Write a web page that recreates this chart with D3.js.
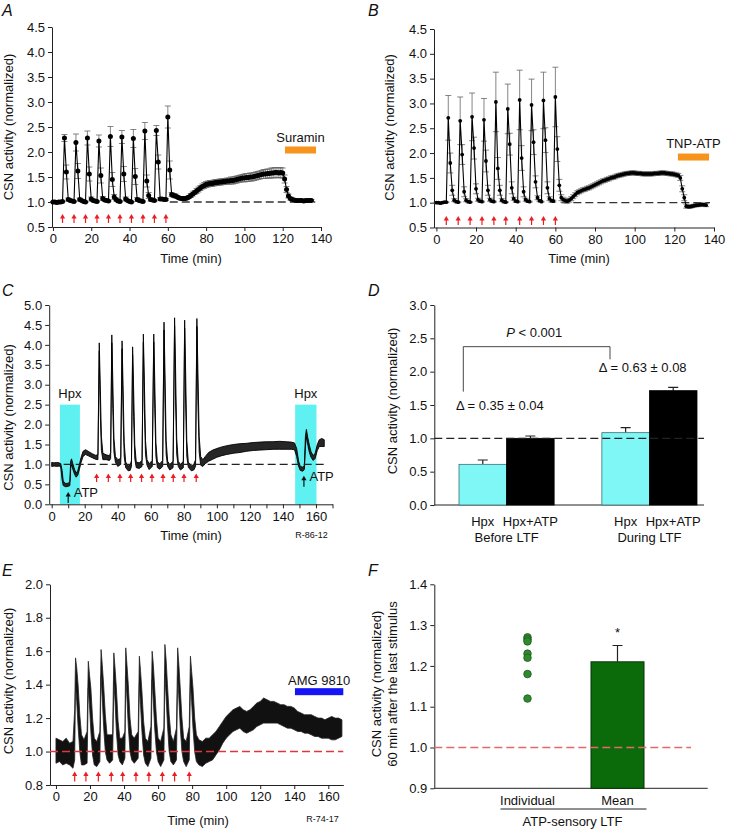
<!DOCTYPE html>
<html>
<head>
<meta charset="utf-8">
<script src="https://cdnjs.cloudflare.com/ajax/libs/d3/7.8.5/d3.min.js"></script>
<style>
body { margin: 0; background: #fff; }
text { font-family: "Liberation Sans", Arial, Helvetica, sans-serif; fill: #111; }
</style>
</head>
<body>
<script>
// ---------- data ----------
// A and B: mean and SEM, one sample per minute (index = minute)
var meanA = [
    1.00,1.00,0.99,1.00,1.00,1.01,
    2.28,1.60,1.05,1.03,1.02,1.01,
    2.19,1.62,1.05,1.03,1.01,1.00,
    2.28,1.56,1.06,1.03,1.02,1.01,
    2.22,1.53,1.07,1.04,1.03,1.02,
    2.31,1.45,1.10,1.05,1.02,1.01,
    2.30,1.56,1.06,1.03,1.01,1.00,
    2.27,1.51,1.05,1.03,1.02,1.01,
    2.42,1.42,1.13,1.05,1.04,1.03,
    2.43,1.80,1.06,1.06,1.05,1.05,
    2.70,1.64,1.15,1.13,1.12,1.10,1.08,1.07,1.07,1.07,
    1.08,1.10,1.13,1.16,1.19,1.22,1.25,1.28,1.31,1.33,
    1.35,1.36,1.37,1.37,1.38,1.39,1.39,1.40,1.40,1.41,
    1.41,1.42,1.42,1.43,1.43,1.44,1.45,1.46,1.47,1.48,
    1.48,1.49,1.49,1.50,1.50,1.51,1.52,1.53,1.54,1.55,
    1.56,1.56,1.57,1.57,1.58,1.58,1.59,1.59,1.58,1.59,
    1.58,1.46,1.25,1.12,1.07,1.05,1.04,1.03,1.03,1.03,
    1.03,1.02,1.03,1.03,1.03,1.03
];
var semA = [
    0.01,0.01,0.01,0.01,0.01,0.01,
    0.07,0.14,0.03,0.02,0.02,0.01,
    0.17,0.15,0.03,0.02,0.02,0.01,
    0.14,0.14,0.04,0.02,0.02,0.01,
    0.12,0.15,0.04,0.02,0.02,0.01,
    0.20,0.14,0.05,0.03,0.02,0.01,
    0.13,0.15,0.04,0.02,0.02,0.01,
    0.18,0.16,0.04,0.02,0.02,0.01,
    0.17,0.12,0.06,0.03,0.02,0.02,
    0.10,0.14,0.03,0.03,0.02,0.02,
    0.22,0.18,0.04,0.04,0.04,0.03,0.03,0.03,0.03,0.03,
    0.03,0.03,0.04,0.04,0.04,0.05,0.05,0.05,0.05,0.06,
    0.06,0.06,0.06,0.06,0.06,0.06,0.06,0.06,0.06,0.06,
    0.06,0.06,0.06,0.07,0.07,0.07,0.07,0.07,0.07,0.07,
    0.08,0.08,0.08,0.08,0.08,0.08,0.08,0.08,0.08,0.08,
    0.09,0.09,0.09,0.09,0.10,0.10,0.10,0.10,0.10,0.10,
    0.10,0.08,0.06,0.04,0.03,0.02,0.02,0.02,0.02,0.02,
    0.02,0.02,0.02,0.02,0.02,0.02
];
var meanB = [
    1.00,1.00,0.99,1.00,1.01,1.01,
    2.71,1.80,1.25,1.05,1.02,1.01,
    2.65,1.97,1.22,1.05,1.02,1.01,
    2.73,2.10,1.28,1.06,1.03,1.02,
    2.67,1.84,1.25,1.06,1.03,1.02,
    3.03,1.69,1.25,1.05,1.02,1.01,
    2.89,2.18,1.30,1.08,1.03,1.02,
    3.07,1.90,1.22,1.06,1.03,1.02,
    2.97,2.22,1.42,1.10,1.04,1.02,
    3.06,2.26,1.30,1.08,1.04,1.03,
    3.13,2.08,1.35,1.10,1.06,1.04,1.03,1.05,1.08,1.12,
    1.16,1.20,1.22,1.24,1.26,1.27,1.29,1.30,1.32,1.34,
    1.36,1.38,1.40,1.42,1.44,1.45,1.47,1.48,1.50,1.51,
    1.52,1.54,1.55,1.56,1.57,1.58,1.59,1.59,1.60,1.60,
    1.60,1.59,1.59,1.59,1.58,1.58,1.58,1.58,1.58,1.58,
    1.59,1.59,1.59,1.60,1.60,1.60,1.59,1.59,1.58,1.58,
    1.57,1.56,1.55,1.50,1.28,1.10,0.93,0.92,0.92,0.93,
    0.94,0.95,0.95,0.96,0.96,0.96,0.95
];
var semB = [
    0.01,0.01,0.01,0.01,0.01,0.01,
    0.45,0.20,0.10,0.03,0.02,0.01,
    0.48,0.20,0.10,0.03,0.02,0.01,
    0.48,0.22,0.10,0.03,0.02,0.01,
    0.43,0.22,0.10,0.03,0.02,0.01,
    0.60,0.22,0.10,0.03,0.02,0.01,
    0.50,0.22,0.12,0.03,0.02,0.01,
    0.60,0.25,0.10,0.03,0.02,0.01,
    0.52,0.25,0.12,0.04,0.02,0.01,
    0.57,0.25,0.12,0.04,0.03,0.02,
    0.60,0.25,0.12,0.06,0.05,0.04,0.04,0.04,0.04,0.04,
    0.04,0.04,0.04,0.04,0.04,0.04,0.04,0.04,0.04,0.04,
    0.04,0.04,0.04,0.04,0.04,0.04,0.04,0.04,0.04,0.04,
    0.04,0.04,0.04,0.04,0.04,0.04,0.04,0.04,0.04,0.04,
    0.04,0.04,0.04,0.04,0.04,0.04,0.04,0.04,0.04,0.04,
    0.04,0.04,0.04,0.04,0.04,0.04,0.04,0.04,0.04,0.04,
    0.04,0.04,0.04,0.05,0.06,0.06,0.04,0.03,0.03,0.03,
    0.03,0.03,0.03,0.03,0.03,0.03,0.03
];
var stimA = [5, 11, 17, 23, 29, 35, 41, 47, 53, 59];
var stimB = [5, 11, 17, 23, 29, 35, 42, 48, 54, 60];
var dashA = [61, 137];
var dashB = [63, 138];
var suraminA = [121.2, 137.4];
var tnpB = [121.8, 137.5];

// C: raw trace envelope (time, lower edge, upper edge)
var timeC = [0,1.5,3,4.5,5.5,6.3,7,8.5,10,11,
    11.5,12,12.8,13.8,14.8,15.8,16.8,17.8,19,20.5,
    22.5,24.5,26.5,28,28.8,29.4,30.1,31,33,35,
    35.7,36.4,37,37.7,38.6,40,41.8,42.6,43.2,43.9,
    44.8,46.3,47.5,48.3,49,49.6,50.3,51.2,53,54.7,
    55.5,56.1,56.8,57.7,59,60.9,61.8,62.4,63.1,64,
    65.5,67.2,68,68.6,69.3,70.2,71.5,73.5,74.4,75,
    75.7,76.6,78,79.7,80.5,81.1,81.8,82.7,84.5,86,
    87.1,87.9,88.5,89.3,90.2,91.5,93,95,97.5,100,
    103,106,110,114,118,122,126,130,134,138,
    142,145,147,148.3,149.5,150.5,152,153,153.6,154.2,
    155,156,157,158.3,159.5,160.8,162,163.5,165];
var loC = [0.95,0.96,0.95,0.96,0.93,0.62,0.47,0.44,0.45,0.47,
    0.90,1.00,0.88,0.76,0.68,0.73,0.88,1.05,1.20,1.25,
    1.21,1.17,1.13,1.12,3.85,2.3,1.35,1.12,1.12,1.10,
    1.15,4.05,2.4,1.3,1.05,0.95,1.0,3.9,2.3,1.2,
    0.92,0.84,0.85,0.95,3.75,2.2,1.15,0.92,0.90,0.95,
    4.07,2.4,1.25,0.98,0.87,0.95,4.07,2.4,1.2,0.92,
    0.88,0.95,4.37,2.5,1.25,0.95,0.86,0.92,4.48,2.6,
    1.25,0.95,0.86,0.92,4.42,2.5,1.2,0.93,0.84,0.86,
    0.95,4.46,2.6,1.3,0.98,0.95,1.02,1.08,1.13,1.18,
    1.22,1.25,1.28,1.3,1.33,1.35,1.36,1.37,1.38,1.38,
    1.38,1.38,1.37,1.2,0.95,0.85,0.83,0.88,1.45,1.7,
    1.5,1.3,1.18,1.1,1.15,1.35,1.45,1.45,1.45];
var hiC = [1.05,1.04,1.05,1.04,1.02,0.85,0.58,0.52,0.53,0.57,
    1.08,1.14,1.02,0.88,0.78,0.84,1.00,1.18,1.33,1.37,
    1.32,1.27,1.23,1.24,4.05,3.0,1.7,1.28,1.24,1.22,
    1.30,4.25,3.1,1.65,1.2,1.12,1.15,4.1,3.0,1.55,
    1.06,0.96,0.98,1.1,3.95,2.9,1.5,1.06,1.04,1.1,
    4.27,3.1,1.6,1.12,1.02,1.1,4.27,3.1,1.55,1.06,
    1.02,1.1,4.57,3.3,1.6,1.08,1.0,1.08,4.68,3.4,
    1.65,1.08,1.0,1.08,4.62,3.3,1.6,1.06,0.96,1.0,
    1.12,4.66,3.4,1.7,1.2,1.12,1.2,1.3,1.36,1.4,
    1.44,1.47,1.5,1.52,1.53,1.55,1.56,1.57,1.57,1.58,
    1.57,1.56,1.54,1.4,1.08,0.95,0.93,0.98,1.7,1.88,
    1.68,1.48,1.32,1.22,1.28,1.5,1.62,1.65,1.62];
var stimC = [27.2, 34.3, 41.3, 47.8, 54.4, 60.7, 67.4, 73.6, 80.1, 87.5];
var hpxC = [[5.0, 17.1], [147.4, 160.3]];
var atpC = [10.0, 152.7];
var atpBaseC = [0.03, 0.44];

// D: bar means and SEM
var groupsD = ["Before LTF", "During LTF"];
var condsD = ["Hpx", "Hpx+ATP"];
var hpxD = [0.61, 1.085];
var hpxSemD = [0.065, 0.075];
var hpxAtpD = [1.00, 1.715];
var hpxAtpSemD = [0.035, 0.05];
var deltaD = ["\u0394 = 0.35 \u00b1 0.04", "\u0394 = 0.63 \u00b1 0.08"];
var deltaYD = [1.42, 1.99];

// E: raw trace envelope
var timeE = [0,2,4,6,8,10,11,11.5,12.2,13,
    14,15,16.5,18.3,19,19.7,20.5,21.5,22.5,24,
    25.8,26.5,27.2,28,29,30,31.5,33.3,34,34.7,
    35.5,36.5,37.5,39,40.5,41,41.7,42.5,43.5,44.5,
    46,48.3,49,49.7,50.5,51.5,52.5,54,55.8,56.5,
    57.2,58,59,60,61.5,63.4,64,64.7,65.5,66.5,
    67.5,69,70.8,71.5,72.2,73,74,75,76.5,78.3,
    79,79.7,80.5,81.5,82.5,84,86,88,90,92,
    94,96,98,100,102,104,106,108,110,112,
    114,116,118,120,122,124,126,128,130,132,
    134,136,138,140,142,144,146,148,150,152,
    154,156,158,160,162,164,166,168];
var loE = [0.93,0.94,0.92,0.93,0.92,0.90,0.95,1.40,1.30,1.15,
    1.00,0.92,0.92,0.93,1.38,1.28,1.12,0.98,0.92,0.91,
    0.94,1.45,1.32,1.15,1.00,0.95,0.93,0.95,1.42,1.30,
    1.12,0.98,0.94,0.92,0.96,1.45,1.32,1.15,1.00,0.95,
    0.93,0.96,1.40,1.28,1.12,0.98,0.93,0.91,0.96,1.43,
    1.30,1.14,1.00,0.94,0.91,0.95,1.46,1.33,1.16,1.00,
    0.94,0.92,0.95,1.45,1.32,1.15,1.00,0.94,0.91,0.95,
    1.40,1.30,1.14,1.00,0.94,0.92,0.91,0.93,0.94,0.95,
    0.98,1.01,1.05,1.08,1.10,1.12,1.13,1.14,1.12,1.11,
    1.12,1.13,1.15,1.16,1.17,1.17,1.17,1.17,1.17,1.16,
    1.15,1.14,1.14,1.13,1.12,1.12,1.11,1.11,1.10,1.09,
    1.09,1.08,1.08,1.08,1.07,1.07,1.08,1.09];
var hiE = [1.08,1.07,1.06,1.08,1.05,1.06,1.25,1.56,1.50,1.40,
    1.22,1.10,1.07,1.12,1.54,1.46,1.38,1.20,1.08,1.06,
    1.12,1.61,1.52,1.40,1.22,1.10,1.10,1.10,1.59,1.50,
    1.38,1.18,1.08,1.08,1.12,1.62,1.52,1.40,1.20,1.10,
    1.08,1.12,1.57,1.48,1.36,1.18,1.08,1.06,1.15,1.60,
    1.52,1.38,1.20,1.08,1.06,1.14,1.64,1.55,1.40,1.22,
    1.10,1.06,1.14,1.62,1.52,1.38,1.20,1.08,1.06,1.15,
    1.57,1.48,1.38,1.20,1.10,1.07,1.06,1.08,1.08,1.10,
    1.12,1.15,1.18,1.21,1.23,1.25,1.26,1.27,1.25,1.24,
    1.25,1.27,1.29,1.30,1.32,1.31,1.30,1.30,1.29,1.28,
    1.28,1.27,1.27,1.26,1.24,1.23,1.22,1.22,1.22,1.21,
    1.20,1.20,1.19,1.20,1.21,1.20,1.20,1.19];
var stimE = [11.0, 17.6, 24.9, 32.5, 39.2, 47.0, 54.6, 62.5, 69.7, 78.3];
var amgE = [140.4, 168.8];

// F: individual values and mean
var catsF = ["Individual", "Mean"];
var indivF = [1.27, 1.265, 1.26, 1.23, 1.22, 1.18, 1.12];
var meanF = 1.21;
var semF = 0.04;

// ---------- drawing ----------
var svg = d3.select("body")
    .append("svg")
    .attr("width", 732)
    .attr("height", 830)
    .style("display", "block");

var fmt1 = d3.format(".1f");
var red = "#ec1c24";

function axes(xs, ys, xVals, xFmt, yVals) {
    var gx = svg.append("g")
        .attr("transform", "translate(0," + ys.range()[0] + ")")
        .call(d3.axisBottom(xs).tickValues(xVals).tickFormat(xFmt)
            .tickSize(4).tickSizeOuter(0).tickPadding(3));
    var gy = svg.append("g")
        .attr("transform", "translate(" + xs.range()[0] + ",0)")
        .call(d3.axisLeft(ys).tickValues(yVals).tickFormat(fmt1)
            .tickSize(4).tickSizeOuter(0).tickPadding(3));
    [gx, gy].forEach(function (g) {
        g.selectAll("text").style("font-size", "13px");
        g.selectAll("line,path").attr("stroke", "#222");
    });
    return gx;
}

function label(x, y, str, size, anchor) {
    return svg.append("text")
        .attr("x", x)
        .attr("y", y)
        .attr("text-anchor", anchor || "middle")
        .style("font-size", (size || 13) + "px")
        .text(str);
}

function yTitle(x, y, str) {
    svg.append("text")
        .attr("transform", "translate(" + x + "," + y + ") rotate(-90)")
        .attr("text-anchor", "middle")
        .style("font-size", "13px")
        .text(str);
}

function panelLetter(x, y, str) {
    label(x, y, str, 16, "start").style("font-style", "italic");
}

function upArrows(xs, times, yBottom, yTop, color) {
    var g = svg.append("g");
    g.selectAll("line").data(times).enter().append("line")
        .attr("x1", function (t) { return xs(t); })
        .attr("x2", function (t) { return xs(t); })
        .attr("y1", yBottom)
        .attr("y2", yTop + 3)
        .attr("stroke", color)
        .attr("stroke-width", 1.2);
    g.selectAll("path").data(times).enter().append("path")
        .attr("d", function (t) {
            var x = xs(t);
            return "M" + x + "," + yTop + "L" + (x - 2.6) + "," + (yTop + 4.5) +
                "L" + (x + 2.6) + "," + (yTop + 4.5) + "Z";
        })
        .attr("fill", color);
}

function hDash(xs, ys, t0, t1, v, color, width) {
    svg.append("line")
        .attr("x1", xs(t0)).attr("x2", xs(t1))
        .attr("y1", ys(v)).attr("y2", ys(v))
        .attr("stroke", color)
        .attr("stroke-width", width || 1.3)
        .attr("stroke-dasharray", "8,4");
}

function meanTrace(xs, ys, means, sems, r) {
    var pts = means.map(function (m, i) { return {t: i, m: m, s: sems[i]}; });
    var g = svg.append("g");
    g.selectAll(".eb").data(pts).enter().append("path")
        .attr("class", "eb")
        .attr("d", function (d) {
            var x = xs(d.t), y1 = ys(d.m + d.s), y0 = ys(d.m - d.s);
            return "M" + x + "," + y0 + "V" + y1 +
                "M" + (x - 3) + "," + y1 + "H" + (x + 3) +
                "M" + (x - 3) + "," + y0 + "H" + (x + 3);
        })
        .attr("stroke", "#666")
        .attr("stroke-width", 0.8)
        .attr("fill", "none");
    g.append("path").datum(pts)
        .attr("d", d3.line().x(function (d) { return xs(d.t); }).y(function (d) { return ys(d.m); }))
        .attr("fill", "none")
        .attr("stroke", "#000")
        .attr("stroke-width", 1.1);
    g.selectAll("circle").data(pts).enter().append("circle")
        .attr("cx", function (d) { return xs(d.t); })
        .attr("cy", function (d) { return ys(d.m); })
        .attr("r", r)
        .attr("fill", "#000");
}

function bandTrace(xs, ys, times, lo, hi, fill, stroke, sw) {
    var pts = times.map(function (t, i) { return {t: t, lo: lo[i], hi: hi[i]}; });
    svg.append("path").datum(pts)
        .attr("d", d3.area()
            .x(function (d) { return xs(d.t); })
            .y0(function (d) { return ys(d.lo); })
            .y1(function (d) { return ys(d.hi); }))
        .attr("fill", fill)
        .attr("stroke", stroke)
        .attr("stroke-width", sw)
        .attr("stroke-linejoin", "round");
}

function drugBar(xs, ys, span, v, color) {
    svg.append("rect")
        .attr("x", xs(span[0]))
        .attr("y", ys(v) - 3.5)
        .attr("width", xs(span[1]) - xs(span[0]))
        .attr("height", 7)
        .attr("fill", color);
}

var timeTicks = [0, 20, 40, 60, 80, 100, 120, 140];
var halfTicks = [0.5, 1.0, 1.5, 2.0, 2.5, 3.0, 3.5, 4.0, 4.5];

// ----- A -----
var xA = d3.scaleLinear().domain([-0.5, 140]).range([52, 321]);
var yA = d3.scaleLinear().domain([0.5, 4.5]).range([227, 27]);
axes(xA, yA, timeTicks, d3.format("d"), halfTicks);
hDash(xA, yA, dashA[0], dashA[1], 1.0, "#333");
meanTrace(xA, yA, meanA, semA, 2.5);
upArrows(xA, stimA, 223, 214, red);
drugBar(xA, yA, suraminA, 2.04, "#f7941d");
label((xA(suraminA[0]) + xA(suraminA[1])) / 2, 142, "Suramin");
label(191, 263, "Time (min)");
yTitle(12.5, 127, "CSN activity (normalized)");
panelLetter(2, 16, "A");

// ----- B -----
var xB = d3.scaleLinear().domain([-1.2, 140]).range([434, 714]);
var yB = d3.scaleLinear().domain([0.5, 4.5]).range([227.5, 29]);
axes(xB, yB, timeTicks, d3.format("d"), halfTicks);
hDash(xB, yB, dashB[0], dashB[1], 1.0, "#333");
meanTrace(xB, yB, meanB, semB, 1.9);
upArrows(xB, stimB, 225, 216, red);
drugBar(xB, yB, tnpB, 1.92, "#f7941d");
label((xB(tnpB[0]) + xB(tnpB[1])) / 2, 148, "TNP-ATP");
label(579, 263, "Time (min)");
yTitle(393.5, 127.5, "CSN activity (normalized)");
panelLetter(368, 16, "B");

// ----- C -----
var xC = d3.scaleLinear().domain([-1.5, 170]).range([49.2, 332.5]);
var yC = d3.scaleLinear().domain([0, 5]).range([504.3, 305]);
svg.selectAll(".hpxC").data(hpxC).enter().append("rect")
    .attr("class", "hpxC")
    .attr("x", function (d) { return xC(d[0]); })
    .attr("y", yC(2.5))
    .attr("width", function (d) { return xC(d[1]) - xC(d[0]); })
    .attr("height", yC(0) - yC(2.5))
    .attr("fill", "#5ff0f2");
hpxC.forEach(function (d) {
    label((xC(d[0]) + xC(d[1])) / 2, yC(2.5) - 6.5, "Hpx");
});
axes(xC, yC, d3.range(0, 171, 10), function (d) { return d % 20 === 0 ? d : ""; },
    [0, 0.5, 1.0, 1.5, 2.0, 2.5, 3.0, 3.5, 4.0, 4.5, 5.0]);
bandTrace(xC, yC, timeC, loC, hiC, "#262626", "#000", 0.9);
hDash(xC, yC, 0, 165.5, 1.0, "#222");
upArrows(xC, stimC, 482, 473.5, red);
atpC.forEach(function (t, i) {
    var yb = yC(atpBaseC[i]);
    upArrows(xC, [t], yb, yb - 11, "#111");
    label(xC(t) + 5.5, yb - 6, "ATP", 13, "start");
});
label(191, 540, "Time (min)");
label(311.5, 538, "R-86-12", 9);
yTitle(12.5, 417.5, "CSN activity (normalized)");
panelLetter(2, 296, "C");

// ----- D -----
var yD = d3.scaleLinear().domain([0, 3]).range([505, 305]);
var xD = d3.scaleBand().domain(groupsD).range([459, 697]).paddingInner(0.334);
var subD = d3.scaleBand().domain(condsD).range([0, xD.bandwidth()]);
var barsD = [];
groupsD.forEach(function (g, i) {
    barsD.push({g: g, c: condsD[0], v: hpxD[i], s: hpxSemD[i]});
    barsD.push({g: g, c: condsD[1], v: hpxAtpD[i], s: hpxAtpSemD[i]});
});
var gyD = svg.append("g")
    .attr("transform", "translate(434.3,0)")
    .call(d3.axisLeft(yD).tickValues([0, 0.5, 1.0, 1.5, 2.0, 2.5, 3.0]).tickFormat(fmt1)
        .tickSize(4).tickSizeOuter(0).tickPadding(3));
gyD.selectAll("text").style("font-size", "13px");
gyD.selectAll("line,path").attr("stroke", "#222");
svg.append("line")
    .attr("x1", 434.3).attr("x2", 704)
    .attr("y1", yD(0)).attr("y2", yD(0))
    .attr("stroke", "#222");
svg.selectAll(".ebD").data(barsD).enter().append("path")
    .attr("class", "ebD")
    .attr("d", function (d) {
        var x = xD(d.g) + subD(d.c) + subD.bandwidth() / 2;
        return "M" + x + "," + yD(d.v) + "V" + yD(d.v + d.s) +
            "M" + (x - 5) + "," + yD(d.v + d.s) + "H" + (x + 5);
    })
    .attr("stroke", "#222")
    .attr("stroke-width", 1.2)
    .attr("fill", "none");
svg.selectAll(".barD").data(barsD).enter().append("rect")
    .attr("class", "barD")
    .attr("x", function (d) { return xD(d.g) + subD(d.c); })
    .attr("y", function (d) { return yD(d.v); })
    .attr("width", subD.bandwidth())
    .attr("height", function (d) { return yD(0) - yD(d.v); })
    .attr("fill", function (d) { return d.c === "Hpx" ? "#7ff7f7" : "#000"; })
    .attr("stroke", function (d) { return d.c === "Hpx" ? "#3c7070" : "#000"; })
    .attr("stroke-width", 0.8);
svg.append("line")
    .attr("x1", 434.3).attr("x2", 704)
    .attr("y1", yD(1)).attr("y2", yD(1))
    .attr("stroke", "#222")
    .attr("stroke-width", 1.3)
    .attr("stroke-dasharray", "8,4");
barsD.forEach(function (d) {
    label(xD(d.g) + subD(d.c) + subD.bandwidth() / 2, 526, d.c);
});
groupsD.forEach(function (g, i) {
    label(xD(g) + xD.bandwidth() / 2, 541.5, g);
    label(xD(g) - 3, yD(deltaYD[i]), deltaD[i], 13, "start");
});
// significance bracket
svg.append("path")
    .attr("d", "M463.3," + yD(1.7) + "V" + yD(2.375) + "H610V" + yD(2.185))
    .attr("fill", "none")
    .attr("stroke", "#333")
    .attr("stroke-width", 0.9);
var pText = svg.append("text")
    .attr("x", 534.3)
    .attr("y", 337)
    .attr("text-anchor", "middle")
    .style("font-size", "13px");
pText.append("tspan").style("font-style", "italic").text("P");
pText.append("tspan").text(" < 0.001");
yTitle(396.6, 401, "CSN activity (normalized)");
panelLetter(368, 296, "D");

// ----- E -----
var xE = d3.scaleLinear().domain([-3.5, 168.8]).range([50, 343.3]);
var yE = d3.scaleLinear().domain([0.8, 2.0]).range([785, 584.3]);
axes(xE, yE, [0, 20, 40, 60, 80, 100, 120, 140, 160], d3.format("d"),
    [0.8, 1.0, 1.2, 1.4, 1.6, 1.8, 2.0]);
bandTrace(xE, yE, timeE, loE, hiE, "#111", "#222", 0.8);
hDash(xE, yE, -3.5, 168.8, 1.0, "#e0383a", 1.4);
upArrows(xE, stimE, 781.5, 771.5, red);
drugBar(xE, yE, amgE, 1.358, "#1414f5");
label((xE(amgE[0]) + xE(amgE[1])) / 2, 684.5, "AMG 9810");
label(198, 825, "Time (min)");
label(322.5, 822, "R-74-17", 9);
yTitle(12.5, 681, "CSN activity (normalized)");
panelLetter(2, 576, "E");

// ----- F -----
var yF = d3.scaleLinear().domain([0.9, 1.4]).range([788.3, 584.3]);
var xF = d3.scalePoint().domain(catsF).range([527.5, 617.5]);
var gyF = svg.append("g")
    .attr("transform", "translate(434.3,0)")
    .call(d3.axisLeft(yF).tickValues([0.9, 1.0, 1.1, 1.2, 1.3, 1.4]).tickFormat(fmt1)
        .tickSize(4).tickSizeOuter(0).tickPadding(3));
gyF.selectAll("text").style("font-size", "13px");
gyF.selectAll("line,path").attr("stroke", "#222");
svg.append("line")
    .attr("x1", 434.3).attr("x2", 707.7)
    .attr("y1", yF(0.9)).attr("y2", yF(0.9))
    .attr("stroke", "#222");
svg.append("path")
    .attr("d", "M" + xF("Mean") + "," + yF(meanF) + "V" + yF(meanF + semF) +
        "M" + (xF("Mean") - 5) + "," + yF(meanF + semF) + "H" + (xF("Mean") + 5))
    .attr("stroke", "#222")
    .attr("stroke-width", 1.2);
svg.append("rect")
    .attr("x", xF("Mean") - 26.5)
    .attr("y", yF(meanF))
    .attr("width", 53)
    .attr("height", yF(0.9) - yF(meanF))
    .attr("fill", "#0b6b0b")
    .attr("stroke", "#053505")
    .attr("stroke-width", 1);
svg.selectAll(".dotF").data(indivF).enter().append("circle")
    .attr("class", "dotF")
    .attr("cx", xF("Individual"))
    .attr("cy", function (d) { return yF(d); })
    .attr("r", 3.8)
    .attr("fill", "#2f8a2f")
    .attr("stroke", "#1a5c1a")
    .attr("stroke-width", 0.8);
svg.append("line")
    .attr("x1", 434.3).attr("x2", 691)
    .attr("y1", yF(1.0)).attr("y2", yF(1.0))
    .attr("stroke", "#e36a6a")
    .attr("stroke-width", 1.4)
    .attr("stroke-dasharray", "8,4");
label(xF("Mean"), yF(meanF + semF) - 9, "*", 13);
catsF.forEach(function (c) { label(xF(c), 805, c); });
svg.append("line")
    .attr("x1", xF("Individual") - 27).attr("x2", xF("Mean") + 29)
    .attr("y1", 809).attr("y2", 809)
    .attr("stroke", "#222");
label(572.5, 826, "ATP-sensory LTF");
yTitle(380.5, 684, "CSN activity (normalized)");
yTitle(397, 684, "60 min after the last stimulus");
panelLetter(368, 576, "F");
</script>
</body>
</html>
